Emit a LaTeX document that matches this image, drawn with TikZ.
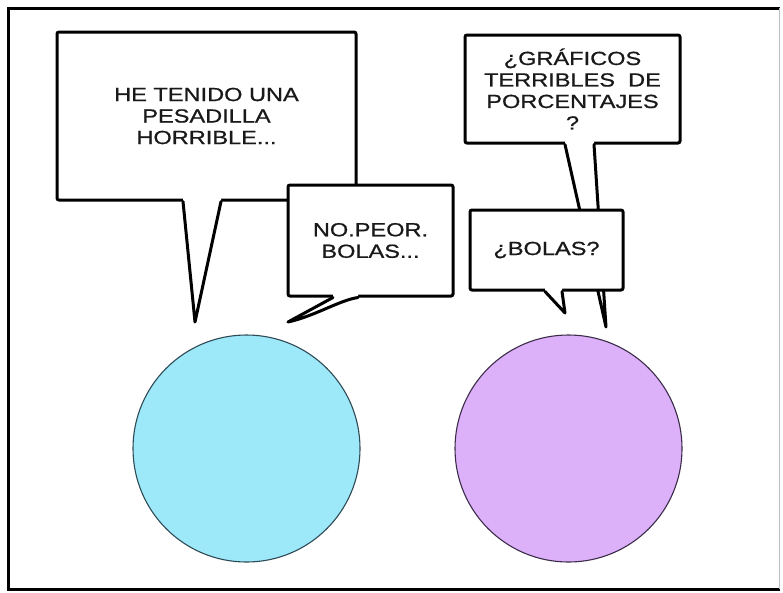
\documentclass[tikz,border=0pt]{standalone}
\usepackage{fontspec}
\newfontfamily\comicfont[FakeStretch=1.24,FakeBold=0.8]{Liberation Sans}
\definecolor{ballblue}{HTML}{9DE9FA}
\definecolor{ballpurple}{HTML}{DDB1FA}
\definecolor{blueedge}{HTML}{2E4A55}
\definecolor{purpleedge}{HTML}{3B2C48}
\begin{document}
\begin{tikzpicture}[x=1pt,y=-1pt,
    every node/.style={font=\comicfont\fontsize{19}{21.5}\selectfont, align=center, text=black!90},
    bubble/.style={draw, fill=white, line width=3pt, rounded corners=2pt, inner sep=0pt},
    tail/.style={line width=3pt, line join=round, line cap=round},
    ball/.style={circle, draw, minimum size=227pt, inner sep=0pt, line width=1.1pt}]

\fill[white] (0,0) rectangle (783,592);
\useasboundingbox (0,0) rectangle (783,592);

% panel frame
\draw[line width=3pt] (780,8) -- (8,8) -- (8,589.5) -- (780,589.5);
\draw[line width=1pt, black!25] (779,8) -- (779,589);

% right side: question bubbles
\node[bubble, minimum width=215pt, minimum height=108pt] (graf) at (572.5,89)
    {¿GRÁFICOS\\TERRIBLES\ \ DE\\PORCENTAJES\\?};
\coordinate (graftip) at (606,327);
\fill[white] ([xshift=-7.5pt,yshift=4pt]graf.south) -- ([xshift=-7.5pt]graf.south)
    -- (graftip) -- ([xshift=21.5pt]graf.south) -- ([xshift=21.5pt,yshift=4pt]graf.south) -- cycle;
\draw[tail] ([xshift=-7.5pt]graf.south) -- (graftip) -- ([xshift=21.5pt]graf.south);

\node[bubble, minimum width=153pt, minimum height=80pt] (bolas) at (546.5,250) {¿BOLAS?};
\coordinate (bolastip) at (565,313);
\fill[white] ([xshift=-1.5pt,yshift=4pt]bolas.south) -- ([xshift=-1.5pt]bolas.south)
    -- (bolastip) -- ([xshift=15.5pt]bolas.south) -- ([xshift=15.5pt,yshift=4pt]bolas.south) -- cycle;
\draw[tail] ([xshift=-1.5pt]bolas.south) -- (bolastip) -- ([xshift=15.5pt]bolas.south);

% left side
\node[bubble, minimum width=299pt, minimum height=168pt] (he) at (206.5,116)
    {HE TENIDO UNA\\PESADILLA\\HORRIBLE...};
\coordinate (hetip) at (195,322);
\fill[white] ([xshift=-23.5pt,yshift=4pt]he.south) -- ([xshift=-23.5pt]he.south)
    -- (hetip) -- ([xshift=14.5pt]he.south) -- ([xshift=14.5pt,yshift=4pt]he.south) -- cycle;
\draw[tail] ([xshift=-23.5pt]he.south) -- (hetip) -- ([xshift=14.5pt]he.south);

\node[bubble, minimum width=165pt, minimum height=111pt] (peor) at (370.5,240.5)
    {NO.PEOR.\\BOLAS...};
\coordinate (peortip) at (288,322);
\fill[white] ([xshift=-37.5pt,yshift=4pt]peor.south) -- ([xshift=-37.5pt]peor.south)
    -- (peortip) .. controls (315,316) and (340,300) .. ([xshift=-12.5pt]peor.south)
    -- ([xshift=-12.5pt,yshift=4pt]peor.south) -- cycle;
\draw[tail] ([xshift=-37.5pt]peor.south) -- (peortip)
    .. controls (315,316) and (340,300) .. ([xshift=-12.5pt]peor.south);

% the two balls
\node[ball, fill=ballblue, draw=blueedge] (blue) at (246.5,448.5) {};
\node[ball, fill=ballpurple, draw=purpleedge] (purple) at (568.5,448.5) {};

\end{tikzpicture}
\end{document}
